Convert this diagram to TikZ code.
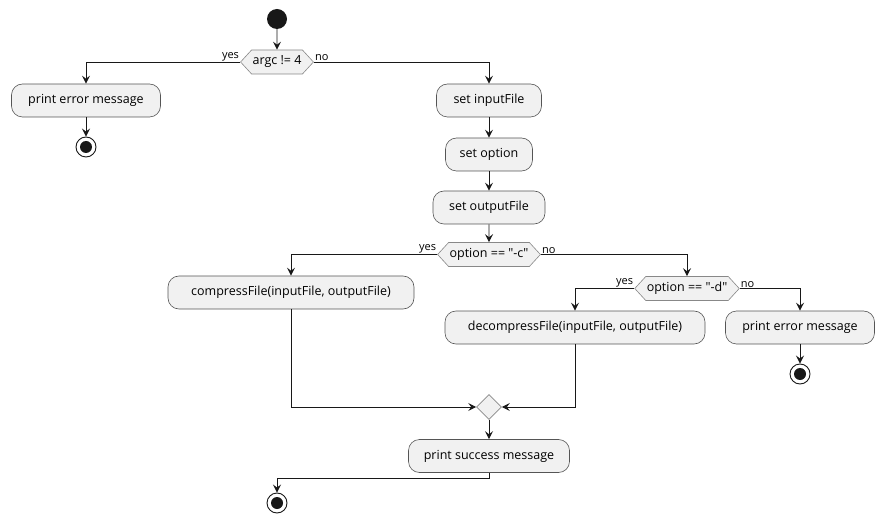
\documentclass[tikz,border=0pt]{standalone}
\usepackage{fontspec}
\setmainfont{Open Sans}
\usetikzlibrary{shapes.symbols,shapes.geometric,arrows.meta}
\definecolor{fillc}{HTML}{F1F1F1}
\definecolor{linec}{HTML}{181818}
\definecolor{bordc}{HTML}{555555}
\begin{document}
\begin{tikzpicture}[x=1pt,y=-1pt,
  every node/.style={font=\fontsize{12.5}{14}\selectfont, text=black},
  actbox/.style={draw=bordc, line width=0.6pt, fill=fillc, rounded corners=11pt,
     minimum height=33pt, inner xsep=0pt, inner ysep=0pt, anchor=center},
  decis/.style={draw=bordc!70, line width=0.6pt, fill=fillc, shape=signal,
     signal to=east and west, signal pointer angle=95, minimum height=24pt,
     inner xsep=1pt, inner ysep=0pt},
  arr/.style={draw=linec, line width=0.9pt, -{Stealth[length=8pt,width=8pt,inset=3pt]}},
  lbl/.style={font=\fontsize{11}{12}\selectfont, inner sep=1pt},
  startc/.style={circle, fill=linec, minimum size=20pt, inner sep=0pt},
  endc/.style={circle, draw=linec, line width=0.9pt, fill=white, minimum size=20pt, inner sep=0pt,
     path picture={\fill[linec] (path picture bounding box.center) circle (6pt);}},
  merge/.style={diamond, draw=bordc!70, line width=0.6pt, fill=fillc, minimum size=25pt, inner sep=0pt}
]
\useasboundingbox (0,0) rectangle (885,526);

\node[startc] (start) at (277,19) {};
\node[decis] (d1) at (277,62) {argc != 4};
\node[actbox, minimum width=149pt] (pe1) at (86,100.5) {print error message};
\node[endc] (end1) at (86,147) {};
\node[actbox, minimum width=105pt] (si) at (489,100.5) {set inputFile};
\node[actbox, minimum width=87pt] (so) at (489,154.5) {set option};
\node[actbox, minimum width=112pt] (sof) at (489,207.5) {set outputFile};
\node[decis] (d2) at (489,254.5) {option == \textquotedbl-c\textquotedbl};
\node[actbox, minimum width=246pt] (cf) at (291,292.5) {compressFile(inputFile, outputFile)};
\node[decis] (d3) at (687,288.5) {option == \textquotedbl-d\textquotedbl};
\node[actbox, minimum width=260pt] (dc) at (575,327.5) {decompressFile(inputFile, outputFile)};
\node[actbox, minimum width=149pt] (pe2) at (800,327.5) {print error message};
\node[endc] (end2) at (800,374) {};
\node[merge] (mg) at (489,407) {};
\node[actbox, minimum width=161pt] (ps) at (489,456) {print success message};
\node[endc] (end3) at (277,503) {};

\draw[arr] (start) -- (d1);
\draw[arr] (d1.west) -| (pe1.north);
\node[lbl, anchor=south east] at (d1.west) {yes};
\draw[arr] (d1.east) -| (si.north);
\node[lbl, anchor=south west] at (d1.east) {no};
\draw[arr] (pe1) -- (end1);
\draw[arr] (si) -- (so);
\draw[arr] (so) -- (sof);
\draw[arr] (sof) -- (d2);
\draw[arr] (d2.west) -| (cf.north);
\node[lbl, anchor=south east] at (d2.west) {yes};
\draw[arr] (d2.east) -| (d3.north);
\node[lbl, anchor=south west] at (d2.east) {no};
\draw[arr] (d3.west) -| (dc.north);
\node[lbl, anchor=south east] at (d3.west) {yes};
\draw[arr] (d3.east) -| (pe2.north);
\node[lbl, anchor=south west] at (d3.east) {no};
\draw[arr] (pe2) -- (end2);
\draw[arr] (cf.south) |- (mg.west);
\draw[arr] (dc.south) |- (mg.east);
\draw[arr] (mg) -- (ps);
\draw[arr] (ps.south) -- ++(0,6) -| (end3.north);
\end{tikzpicture}
\end{document}
